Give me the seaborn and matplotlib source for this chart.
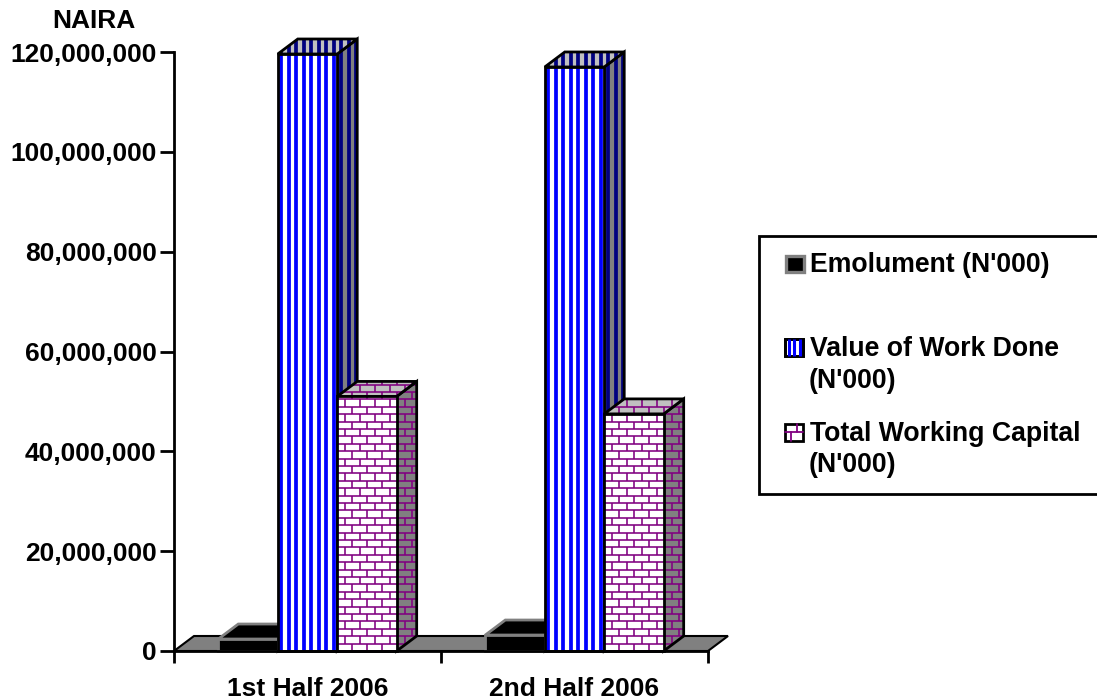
import numpy as np
import pandas as pd
import matplotlib
matplotlib.use("Agg")
import matplotlib.pyplot as plt
import seaborn as sns
from matplotlib.collections import LineCollection
from matplotlib.patches import Polygon, Rectangle
from matplotlib.ticker import StrMethodFormatter

# values
periods = ["1st Half 2006", "2nd Half 2006"]
series = ["Emolument (N'000)", "Value of Work Done (N'000)", "Total Working Capital (N'000)"]
emolument = [2400000, 3200000]
work_done = [119600000, 117000000]
working_capital = [51000000, 47500000]

W, H = 1097, 700
sns.set_style("white")
plt.rcParams["font.family"] = ["Liberation Sans", "DejaVu Sans"]
plt.rcParams["font.weight"] = "bold"
plt.rcParams["text.color"] = "black"
plt.rcParams["xtick.color"] = "black"
plt.rcParams["ytick.color"] = "black"

df = pd.DataFrame({
    "period": periods * 3,
    "series": np.repeat(series, 2),
    "value": emolument + work_done + working_capital,
})

fig = plt.figure(figsize=(W / 100, H / 100), dpi=100, facecolor="white")
ax = fig.add_axes([174 / W, (H - 651) / H, 534 / W, 599 / H])
sns.barplot(data=df, x="period", y="value", hue="series", hue_order=series, ax=ax,
            palette=["black", "white", "white"], width=0.668, gap=0, legend=False, saturation=1)
ax.set_xlim(-0.5, 1.5)
ax.set_ylim(0, 120000000)
ax.set_xlabel("")
ax.set_ylabel("")

origin = ax.transData.transform((0, 0))
px = ax.transData.transform((1, 1)) - origin
dx, dy = 20 / px[0], 15 / px[1]


# patterns are upright on every face, cut to the face outline, as in the old chart
def stripes(anchor, corners, color, z, clip):
    xs = [c[0] for c in corners]
    ys = [c[1] for c in corners]
    step = 7.45 / px[0]
    segs = []
    t = anchor[0] + step / 2
    while t < max(xs):
        if t > min(xs):
            segs.append([(t, min(ys)), (t, max(ys))])
        t += step
    lc = LineCollection(segs, colors=color, linewidths=2.7, capstyle="butt", zorder=z)
    ax.add_collection(lc, autolim=False)
    lc.set_clip_path(clip)
    lc.set_clip_box(None)


def bricks(anchor, corners, color, z, clip):
    xs = [c[0] for c in corners]
    ys = [c[1] for c in corners]
    row = 7.4 / px[1]
    col = 15.0 / px[0]
    segs = []
    r = 0
    y = anchor[1]
    while y < max(ys):
        if y + row > min(ys):
            segs.append([(min(xs), y), (max(xs), y)])
            t = anchor[0] + (col / 2 if r % 2 else col)
            while t < max(xs):
                segs.append([(t, y), (t, y + row)])
                t += col
        y += row
        r += 1
    lc = LineCollection(segs, colors=color, linewidths=1.15, capstyle="butt", zorder=z)
    ax.add_collection(lc, autolim=False)
    lc.set_clip_path(clip)
    lc.set_clip_box(None)


def face(anchor, o, u, v, fill, edge, z, pattern=None, color=None):
    o, u, v = np.array(o, float), np.array(u, float), np.array(v, float)
    corners = [o, o + u, o + u + v, o + v]
    clip = Polygon(corners, closed=True, facecolor=fill if fill else "none", edgecolor="none", zorder=z, clip_on=False)
    ax.add_patch(clip)
    if pattern is not None:
        pattern(anchor, corners, color, z + 0.1, clip)
    ax.add_patch(Polygon(corners, closed=True, fill=False, edgecolor=edge, linewidth=2,
                         joinstyle="miter", zorder=z + 0.2, clip_on=False))


# floor of the 3d box
x0, x1 = ax.get_xlim()
ax.add_patch(Polygon([(x0, 0), (x1, 0), (x1 + dx, dy), (x0 + dx, dy)], closed=True, facecolor="#808080",
                     edgecolor="black", linewidth=1.5, zorder=1, clip_on=False))

# looks per series: front, side and top of each bar
looks = [
    dict(edge="#808080", front=(None, None), side=("black", None, None), top=("black", None, None)),
    dict(edge="black", front=(stripes, "#0000ff"), side=("#808080", stripes, "#000080"), top=("#c0c0c0", stripes, "#000080")),
    dict(edge="black", front=(bricks, "#800080"), side=("#808080", bricks, "#800080"), top=("#c0c0c0", bricks, "#800080")),
]

z = 3
for i in range(len(periods)):
    for cont, look in zip(ax.containers, looks):
        bar = cont[i]
        x, w, h = bar.get_x(), bar.get_width(), bar.get_height()
        anchor = (x, 0)
        sf, sp, sc = look["side"]
        face(anchor, (x + w, 0), (dx, dy), (0, h), sf, look["edge"], z, sp, sc)
        tf, tp, tc = look["top"]
        face(anchor, (x, h), (w, 0), (dx, dy), tf, look["edge"], z + 1, tp, tc)
        bar.set_zorder(z + 2)
        bar.set_edgecolor("none")
        fp, fc = look["front"]
        face(anchor, (x, 0), (w, 0), (0, h), None, look["edge"], z + 2, fp, fc)
        z += 3

# axes
for s in ["top", "right"]:
    ax.spines[s].set_visible(False)
for s in ["left", "bottom"]:
    ax.spines[s].set_linewidth(2)
    ax.spines[s].set_color("black")
    ax.spines[s].set_zorder(40)
ax.set_yticks(np.arange(0, 120000001, 20000000))
ax.yaxis.set_major_formatter(StrMethodFormatter("{x:,.0f}"))
ax.tick_params(axis="y", length=10, width=2, color="black", pad=2.5, labelsize=19, left=True)
ax.set_xticks([-0.5, 0.5, 1.5], ["", "", ""])
ax.set_xticks([0, 1], periods, minor=True)
ax.tick_params(axis="x", which="major", length=8.5, width=2, color="black", bottom=True)
ax.tick_params(axis="x", which="minor", length=0, pad=18.5, labelsize=19)

# overlay in pixel positions for the title and legend box
ov = fig.add_axes([0, 0, 1, 1], zorder=10)
ov.set_xlim(0, W)
ov.set_ylim(H, 0)
ov.axis("off")
ov.text(94, 21, "NAIRA", fontsize=19, ha="center", va="center")

ov.add_patch(Rectangle((759, 236), 345, 258, facecolor="white", edgecolor="black", linewidth=2))
ov.add_patch(Rectangle((786, 256), 18, 16, facecolor="black", edgecolor="#808080", linewidth=2.4))
ov.add_patch(Rectangle((785, 339), 18, 17, facecolor="white", edgecolor="black", linewidth=2))
for t in [788.5, 794, 799.5]:
    ov.plot([t, t], [339, 356], color="#0000ff", lw=2.2, solid_capstyle="butt")
ov.add_patch(Rectangle((785, 339), 18, 17, fill=False, edgecolor="black", linewidth=2))
ov.plot([785, 803], [432, 432], color="#800080", lw=1.3)
ov.plot([797, 797], [424, 432], color="#800080", lw=1.3)
ov.plot([791, 791], [432, 441], color="#800080", lw=1.3)
ov.add_patch(Rectangle((785, 424), 18, 17, fill=False, edgecolor="black", linewidth=2))

legend_lines = [(265.5, 810, "Emolument (N'000)"), (349, 810, "Value of Work Done"), (381, 809, "(N'000)"),
                (434, 810, "Total Working Capital"), (465, 809, "(N'000)")]
for y, x, label in legend_lines:
    ov.text(x, y, label, fontsize=19.2, ha="left", va="center")

fig.savefig("out.png", dpi=100, facecolor="white")
